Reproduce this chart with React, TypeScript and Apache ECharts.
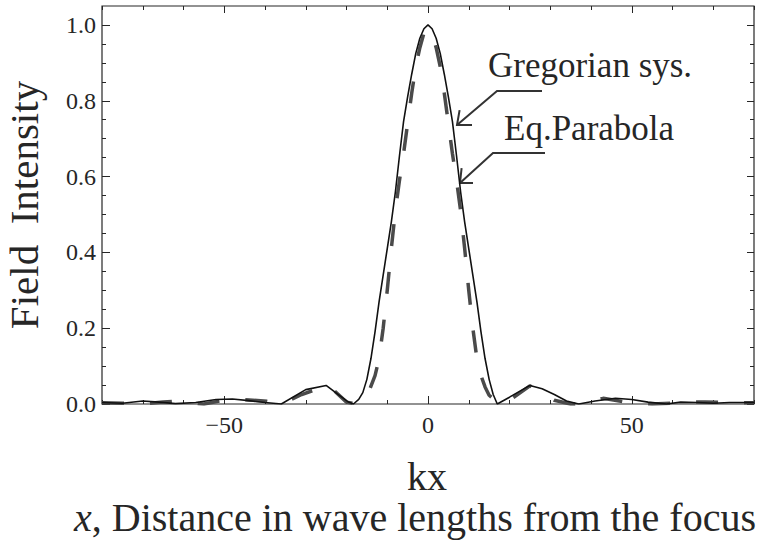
import React, { useEffect, useRef } from "react";
import * as echarts from "echarts";

// Gregorian system (solid)
const solidX = [-80, -75, -70, -66, -62, -57, -52, -48, -44, -40, -36, -30, -25, -22, -19.5, -18.3, -17, -16, -15, -14, -13, -12, -11, -10, -9, -8, -7, -6, -5, -4, -3, -2, -1, 0, 1, 2, 3, 4, 5, 6, 7, 8, 9, 10, 11, 12, 13, 14, 15, 16, 17, 20, 25, 28, 31, 34, 37, 41, 46, 50, 54, 58.5, 62, 66, 70, 74, 80];
const solidY = [0.004, 0.002, 0.008, 0.005, 0.001, 0.004, 0.012, 0.013, 0.009, 0.004, 0.0, 0.038, 0.049, 0.025, 0.005, 0.0, 0.012, 0.03, 0.065, 0.12, 0.19, 0.27, 0.34, 0.41, 0.48, 0.56, 0.655, 0.745, 0.81, 0.87, 0.925, 0.965, 0.99, 1.0, 0.99, 0.965, 0.925, 0.87, 0.81, 0.745, 0.655, 0.56, 0.48, 0.41, 0.34, 0.27, 0.19, 0.12, 0.065, 0.025, 0.0, 0.018, 0.049, 0.04, 0.025, 0.008, 0.0, 0.008, 0.015, 0.012, 0.005, 0.0, 0.005, 0.004, 0.002, 0.004, 0.004];

// Equivalent parabola (dashed)
const dashX = [-80, -75, -70, -65, -61, -57, -55, -50, -46, -43, -39.5, -36, -31, -24.5, -20, -17.5, -16, -14.6, -13, -12, -11, -10, -9, -8, -7, -6, -5, -4, -3, -2, -1, 0, 1, 2, 3, 4, 5, 6, 7, 8, 9, 10, 11, 12, 13, 14, 15, 17, 18.5, 20, 25, 31, 35, 38, 43, 49, 55, 60, 65, 68, 74, 80];
const dashY = [0.003, 0.002, 0.0, 0.005, 0.008, 0.002, 0.0, 0.01, 0.012, 0.01, 0.007, 0.0, 0.025, 0.05, 0.005, 0.0, 0.01, 0.03, 0.075, 0.12, 0.2, 0.3, 0.41, 0.51, 0.59, 0.66, 0.74, 0.82, 0.89, 0.94, 0.978, 0.99, 0.978, 0.94, 0.89, 0.82, 0.74, 0.66, 0.59, 0.51, 0.41, 0.3, 0.2, 0.12, 0.075, 0.045, 0.023, 0.005, 0.0, 0.01, 0.048, 0.01, 0.0, 0.0, 0.015, 0.004, 0.0, 0.002, 0.005, 0.005, 0.004, 0.003];

const xMajorTicks = [-50, 0, 50];
const xMinorTicks = [-80, -70, -60, -40, -30, -20, -10, 10, 20, 30, 40, 60, 70, 80];
const yMajorTicks = [0, 0.2, 0.4, 0.6, 0.8, 1.0];
const yMinorTicks = [0.05, 0.1, 0.15, 0.25, 0.3, 0.35, 0.45, 0.5, 0.55, 0.65, 0.7, 0.75, 0.85, 0.9, 0.95];

const FAMILY = "Liberation Serif";
const INK = "#262626";

export default function App() {
  const ref = useRef<HTMLDivElement>(null);
  useEffect(() => {
    if (!ref.current) return;
    const chart = echarts.init(ref.current, undefined, { renderer: "svg" });
    const solid = solidX.map((x, i) => [x, solidY[i]]);
    const dashed = dashX.map((x, i) => [x, dashY[i]]);
    const tickStyle = { color: INK, width: 1 };
    const xBase = { type: "value", min: -80, max: 80, splitLine: { show: false }, axisLine: { show: false, onZero: false } };
    const yBase = { type: "value", min: 0, max: 1.05, splitLine: { show: false }, axisLine: { show: false, onZero: false } };
    chart.setOption({
      animation: false,
      backgroundColor: "#ffffff",
      textStyle: { fontFamily: FAMILY },
      grid: { left: 102, right: 14, top: 6, bottom: 143, show: true, borderColor: INK, borderWidth: 1.2, backgroundColor: "transparent" },
      xAxis: [
        {
          ...xBase, position: "bottom",
          axisTick: { inside: true, length: 8, lineStyle: tickStyle, customValues: xMajorTicks },
          axisLabel: {
            customValues: xMajorTicks, margin: 9, fontFamily: FAMILY, fontSize: 24, color: INK,
            formatter: (v: number) => (v < 0 ? "\u2212" + Math.abs(v) : String(v)),
          },
        },
        { ...xBase, position: "bottom", axisTick: { inside: true, length: 4, lineStyle: tickStyle, customValues: xMinorTicks }, axisLabel: { show: false } },
        { ...xBase, position: "top", axisTick: { inside: true, length: 7, lineStyle: tickStyle, customValues: xMajorTicks }, axisLabel: { show: false } },
        { ...xBase, position: "top", axisTick: { inside: true, length: 4, lineStyle: tickStyle, customValues: xMinorTicks }, axisLabel: { show: false } },
      ],
      yAxis: [
        {
          ...yBase, position: "left",
          axisTick: { inside: true, length: 8, lineStyle: tickStyle, customValues: yMajorTicks },
          axisLabel: { customValues: yMajorTicks, margin: 6, fontFamily: FAMILY, fontSize: 24, color: INK, formatter: (v: number) => v.toFixed(1) },
        },
        { ...yBase, position: "left", axisTick: { inside: true, length: 4, lineStyle: tickStyle, customValues: yMinorTicks }, axisLabel: { show: false } },
        { ...yBase, position: "right", axisTick: { inside: true, length: 7, lineStyle: tickStyle, customValues: yMajorTicks }, axisLabel: { show: false } },
        { ...yBase, position: "right", axisTick: { inside: true, length: 4, lineStyle: tickStyle, customValues: yMinorTicks }, axisLabel: { show: false } },
      ],
      series: [
        {
          name: "Eq.Parabola", type: "line", data: dashed, showSymbol: false, symbol: "none",
          lineStyle: { color: "#4a4a4a", width: 3.5, type: [22, 26], cap: "butt" }, z: 2,
        },
        {
          name: "Gregorian sys.", type: "line", data: solid, showSymbol: false, symbol: "none",
          lineStyle: { color: "#111111", width: 1.6 }, z: 3,
        },
      ],
      graphic: [
        { type: "text", x: 24, y: 205, rotation: Math.PI / 2, style: { text: "Field  Intensity", fontFamily: FAMILY, fontSize: 41, fill: INK, align: "center", verticalAlign: "middle" } },
        { type: "text", x: 427, y: 476, style: { text: "kx", fontFamily: FAMILY, fontSize: 40, fill: INK, align: "center", verticalAlign: "middle" } },
        {
          type: "text", x: 415, y: 517,
          style: {
            text: "{i|x}{n|, Distance in wave lengths from the focus}",
            fontFamily: FAMILY, fontSize: 40, fill: INK, align: "center", verticalAlign: "middle",
            rich: {
              i: { fontStyle: "italic", fontFamily: FAMILY, fontSize: 40, fill: INK },
              n: { fontFamily: FAMILY, fontSize: 40, fill: INK },
            },
          },
        },
        { type: "text", x: 488, y: 65, style: { text: "Gregorian sys.", fontFamily: FAMILY, fontSize: 35, fill: INK, align: "left", verticalAlign: "middle" } },
        { type: "text", x: 504, y: 128, style: { text: "Eq.Parabola", fontFamily: FAMILY, fontSize: 35, fill: INK, align: "left", verticalAlign: "middle" } },
        { type: "polyline", shape: { points: [[542, 91], [497, 91], [457, 125]] }, style: { stroke: "#333", lineWidth: 2, fill: null } },
        { type: "polyline", shape: { points: [[472, 125], [457, 125], [459.6, 110.2]] }, style: { stroke: "#333", lineWidth: 2, fill: null } },
        { type: "polyline", shape: { points: [[545, 153], [493, 153], [460, 183]] }, style: { stroke: "#333", lineWidth: 2, fill: null } },
        { type: "polyline", shape: { points: [[473, 183], [460, 183], [461.6, 168.1]] }, style: { stroke: "#333", lineWidth: 2, fill: null } },
      ],
    });
    return () => chart.dispose();
  }, []);
  return <div ref={ref} style={{ position: "absolute", left: 0, top: 0, width: 768, height: 547 }} />;
}
